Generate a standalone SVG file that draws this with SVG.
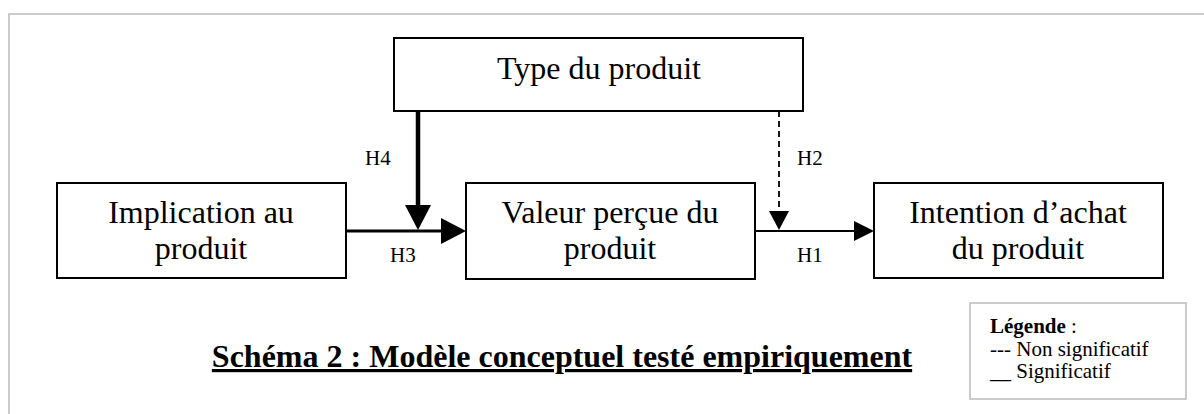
<svg xmlns="http://www.w3.org/2000/svg" width="1204" height="414" viewBox="0 0 1204 414">
  <style>
    .box { fill: #fff; stroke: #000; stroke-width: 2; }
    .lbl { font-family: "Liberation Serif", "Times New Roman", serif; font-size: 32px; fill: #000; text-anchor: middle; }
    .h { font-family: "Liberation Serif", "Times New Roman", serif; font-size: 21px; fill: #000; }
    .leg { font-family: "Liberation Serif", "Times New Roman", serif; font-size: 21px; fill: #000; }
    .title { font-family: "Liberation Serif", "Times New Roman", serif; font-size: 32px; font-weight: bold; fill: #000; text-anchor: middle; text-decoration: underline; }
  </style>
  <rect width="1204" height="414" fill="#fff"/>
  <!-- page frame -->
  <rect x="9" y="14" width="1210" height="420" fill="none" stroke="#c0c0c0" stroke-width="1.6"/>

  <g id="node-type">
    <rect class="box" x="394" y="38" width="409" height="73"/>
    <text class="lbl" x="599" y="79">Type du produit</text>
  </g>
  <g id="node-implication">
    <rect class="box" x="57" y="183" width="289" height="95"/>
    <text class="lbl" x="201" y="223">Implication au</text>
    <text class="lbl" x="201" y="259">produit</text>
  </g>
  <g id="node-valeur">
    <rect class="box" x="466" y="183" width="289" height="96"/>
    <text class="lbl" x="610" y="223">Valeur perçue du</text>
    <text class="lbl" x="610" y="259">produit</text>
  </g>
  <g id="node-intention">
    <rect class="box" x="874" y="183" width="289" height="95"/>
    <text class="lbl" x="1018" y="223">Intention d’achat</text>
    <text class="lbl" x="1018" y="259">du produit</text>
  </g>

  <g id="connectors">
    <!-- H4: type -> H3 link (moderation) -->
    <line x1="418" y1="111" x2="418" y2="207" stroke="#000" stroke-width="4.5"/>
    <polygon points="405,205 431,205 418,230" fill="#000"/>
    <!-- H3: implication -> valeur -->
    <line x1="346" y1="231" x2="443" y2="231" stroke="#000" stroke-width="3"/>
    <polygon points="441,218 466,231 441,244" fill="#000"/>
    <!-- H2: type -> H1 link (dashed) -->
    <line x1="779" y1="111" x2="779" y2="212" stroke="#000" stroke-width="1.8" stroke-dasharray="6,4"/>
    <polygon points="769,211 789,211 779,230" fill="#000"/>
    <!-- H1: valeur -> intention -->
    <line x1="755" y1="231" x2="856" y2="231" stroke="#000" stroke-width="2.2"/>
    <polygon points="854,221 874,231 854,241" fill="#000"/>
    <text class="h" x="365" y="165">H4</text>
    <text class="h" x="390" y="262">H3</text>
    <text class="h" x="797" y="165">H2</text>
    <text class="h" x="797" y="262">H1</text>
  </g>

  <text class="title" x="562" y="367">Schéma 2 : Modèle conceptuel testé empiriquement</text>

  <g id="legend">
    <rect x="970" y="303" width="216" height="96" fill="#fff" stroke="#c0c0c0" stroke-width="1.6"/>
    <text class="leg" x="990" y="333"><tspan font-weight="bold">Légende</tspan> :</text>
    <text class="leg" x="990" y="356">--- Non significatif</text>
    <text class="leg" x="990" y="378">__ Significatif</text>
  </g>
</svg>
